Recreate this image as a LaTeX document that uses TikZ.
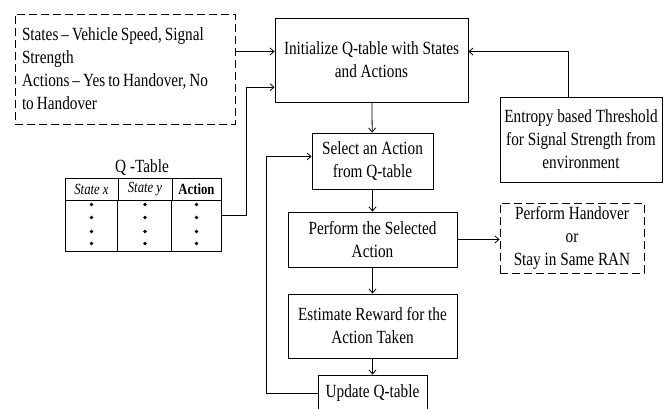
\documentclass[tikz,border=0pt]{standalone}
\usepackage{fontspec}
\setmainfont{Liberation Serif}[FakeStretch=0.82]
\usetikzlibrary{calc,arrows.meta}

\begin{document}
\begin{tikzpicture}[x=1pt, y=-1pt,
    every node/.style={font=\fontsize{18.6}{23}\selectfont, inner sep=0pt},
    box/.style={draw, line width=0.9pt, align=center},
    notebox/.style={box, dash pattern=on 8pt off 4pt},
    hcell/.style={draw, line width=0.9pt, minimum height=22, font=\fontsize{15.5}{16}\selectfont},
    arr/.style={-{Straight Barb[length=4pt,width=7pt]}, line width=0.8pt},
    ]
  \useasboundingbox (0,0) rectangle (669,408);

  % main column
  \node[box, minimum width=193, minimum height=84] (init) at (371.5,60)
      {Initialize Q-table with States\\and Actions};
  \node[box, minimum width=121, minimum height=56] (select) at (372.5,161)
      {Select an Action\\from Q-table};
  \node[box, minimum width=169, minimum height=55] (perform) at (372.5,239.5)
      {Perform the Selected\\Action};
  \node[box, minimum width=169, minimum height=64] (estimate) at (372.5,326)
      {Estimate Reward for the\\Action Taken};
  \node[box, minimum width=109, minimum height=36] (update) at (372.5,393)
      {Update Q-table};

  % side boxes
  \node[notebox, align=left, text width=206, inner xsep=7, minimum height=110] (states) at (125,69)
      {\spaceskip=3pt plus 1pt\relax
       States -- Vehicle Speed, Signal\\Strength\\Actions -- Yes to Handover, No\\to Handover};
  \node[box, minimum width=162, minimum height=85] (entropy) at (581,139.5)
      {Entropy based Threshold\\for Signal Strength from\\environment};
  \node[notebox, minimum width=144, minimum height=70] (handover) at (572,238)
      {Perform Handover\\or\\Stay in Same RAN};

  % Q-table
  \node (qcap) at (142,168) {Q -Table};
  \node[hcell, minimum width=53] (hx) at (91.5,189) {\textit{State x}};
  \node[hcell, minimum width=54] (hy) at (145,189) {\textit{State y}};
  \node[hcell, minimum width=49] (ha) at (196.5,189) {\textbf{Action}};
  \node[draw, line width=0.9pt, minimum width=156, minimum height=51, anchor=north west] (qbody) at (hx.south west) {};
  \draw[line width=0.9pt] (hy.south west) -- (hy.south west |- qbody.south);
  \draw[line width=0.9pt] (ha.south west) -- (ha.south west |- qbody.south);
  \foreach \c in {hx,hy,ha}
    \foreach \dy in {4,17,31,43}
      \fill (\c.south) ++(0,\dy) circle (1.8pt);

  % entry points on the init box
  \coordinate (in1) at ($(init.north west)!0.4!(init.south west)$);
  \coordinate (in2) at ($(init.north west)!0.82!(init.south west)$);
  \coordinate (in3) at ($(init.north east)!0.4!(init.south east)$);
  \coordinate (qout) at ($(qbody.north east)+(0,15)$);
  \coordinate (loopin) at ($(select.north west)!0.42!(select.south west)$);

  % connectors
  \draw[arr] (states.east |- in1) -- (in1);
  \draw[arr] (qout) -| ($(in2)+(-28,0)$) -- (in2);
  \draw[arr] ([xshift=-13pt]entropy.north) |- (in3);
  \draw[arr] (init) -- (select);
  \draw[arr] (select) -- (perform);
  \draw[arr] (perform) -- (estimate);
  \draw[arr] (estimate) -- (update);
  \draw[arr] (perform.east) -- (perform.east -| handover.west);
  \draw[arr] (update.west) -- ++(-51,0) |- (loopin);
\end{tikzpicture}
\end{document}
